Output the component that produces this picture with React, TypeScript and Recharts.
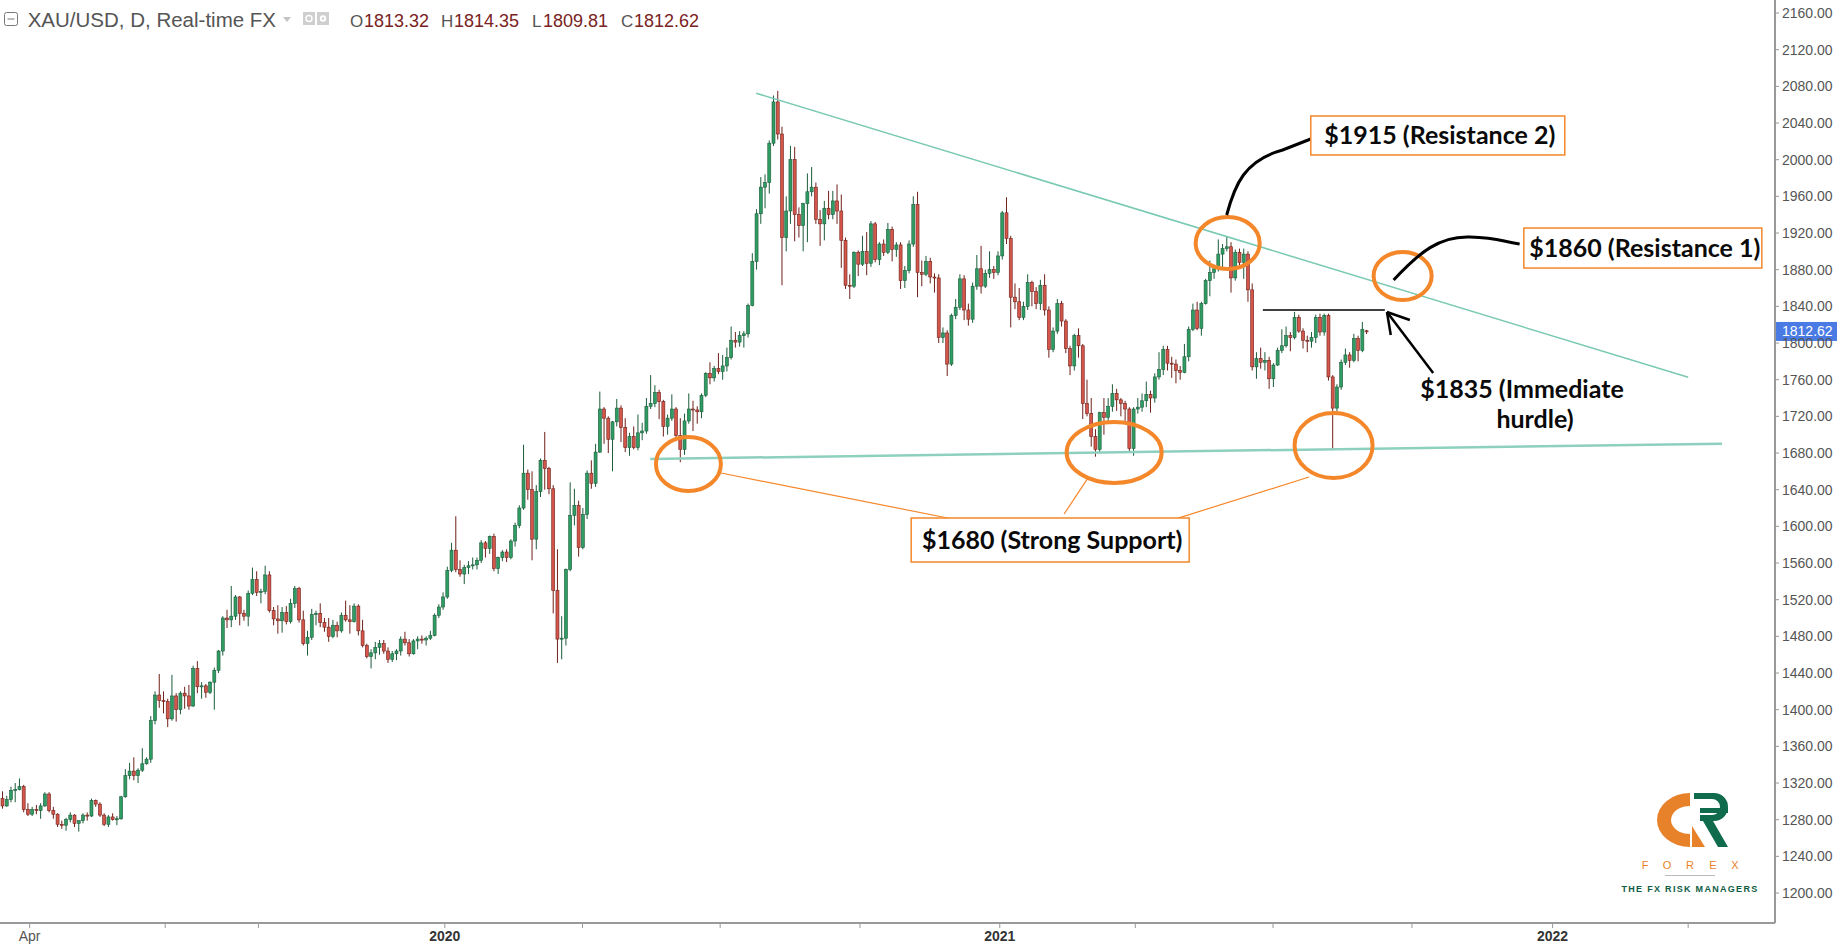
import { ComposedChart, Bar, XAxis, YAxis, ReferenceLine, ReferenceDot } from 'recharts';

// 2-session candles [open, high, low, close]
const ohlc2019: number[][] = [
  [1303, 1311, 1292, 1295], [1295, 1306, 1294, 1302], [1302, 1316, 1299, 1312], [1312, 1320, 1299, 1313],
  [1313, 1325, 1312, 1316], [1316, 1318, 1288, 1291], [1291, 1298, 1284, 1286], [1286, 1294, 1284, 1291],
  [1291, 1296, 1286, 1290], [1290, 1298, 1281, 1295], [1295, 1310, 1294, 1308], [1308, 1310, 1288, 1290],
  [1290, 1294, 1281, 1286], [1286, 1287, 1272, 1275], [1275, 1279, 1270, 1274], [1274, 1282, 1268, 1280],
  [1280, 1288, 1277, 1285], [1285, 1286, 1272, 1276], [1276, 1279, 1267, 1279], [1279, 1287, 1276, 1285],
  [1285, 1288, 1279, 1284], [1284, 1303, 1283, 1301], [1301, 1302, 1294, 1297], [1297, 1299, 1283, 1285],
  [1285, 1287, 1273, 1275], [1275, 1285, 1272, 1283], [1283, 1287, 1279, 1280], [1280, 1284, 1274, 1281],
  [1281, 1306, 1280, 1305], [1305, 1335, 1304, 1328], [1328, 1342, 1324, 1333], [1333, 1348, 1323, 1328],
  [1328, 1336, 1320, 1334], [1334, 1358, 1332, 1341], [1341, 1348, 1340, 1346], [1346, 1393, 1342, 1388],
  [1388, 1420, 1384, 1416], [1416, 1439, 1402, 1410], [1410, 1420, 1396, 1409], [1409, 1412, 1381, 1390],
  [1390, 1438, 1388, 1415], [1415, 1418, 1387, 1400], [1400, 1420, 1395, 1418], [1418, 1425, 1401, 1415],
  [1415, 1427, 1400, 1404], [1404, 1448, 1403, 1445], [1445, 1453, 1418, 1425], [1425, 1430, 1412, 1426],
  [1426, 1428, 1413, 1419], [1419, 1431, 1417, 1430], [1430, 1446, 1400, 1443], [1443, 1465, 1440, 1464],
  [1464, 1502, 1459, 1500], [1500, 1509, 1489, 1498], [1498, 1535, 1490, 1502], [1502, 1525, 1498, 1523],
  [1523, 1524, 1492, 1505], [1505, 1509, 1497, 1502], [1502, 1530, 1491, 1527], [1527, 1555, 1525, 1542],
  [1542, 1551, 1524, 1528], [1528, 1532, 1516, 1529], [1529, 1557, 1526, 1547], [1547, 1551, 1506, 1508],
  [1508, 1512, 1492, 1499], [1499, 1514, 1483, 1497], [1497, 1512, 1484, 1506], [1506, 1513, 1493, 1496],
  [1496, 1521, 1494, 1516], [1516, 1535, 1511, 1532], [1532, 1534, 1495, 1498], [1498, 1508, 1470, 1472],
  [1472, 1486, 1459, 1479], [1479, 1510, 1476, 1504], [1504, 1508, 1492, 1505], [1505, 1516, 1490, 1495],
  [1495, 1500, 1485, 1490], [1490, 1500, 1474, 1480], [1480, 1498, 1478, 1492], [1492, 1496, 1479, 1486],
  [1486, 1506, 1484, 1503], [1503, 1519, 1496, 1498], [1498, 1514, 1483, 1496], [1496, 1516, 1495, 1513],
  [1513, 1515, 1481, 1486], [1486, 1498, 1468, 1470], [1470, 1472, 1456, 1458], [1458, 1466, 1445, 1462],
  [1462, 1474, 1455, 1468], [1468, 1476, 1460, 1472], [1472, 1476, 1461, 1464], [1464, 1468, 1451, 1455],
  [1455, 1464, 1452, 1461], [1461, 1466, 1454, 1464], [1464, 1480, 1459, 1477], [1477, 1485, 1470, 1473],
  [1473, 1477, 1458, 1461], [1461, 1477, 1460, 1475], [1475, 1480, 1466, 1477], [1477, 1481, 1472, 1476],
  [1476, 1480, 1470, 1478], [1478, 1486, 1476, 1481], [1481, 1505, 1480, 1503], [1503, 1515, 1500, 1512],
  [1512, 1528, 1509, 1523],
];

const ohlc2020: number[][] = [
  [1523, 1556, 1521, 1552], [1552, 1582, 1550, 1574], [1574, 1611, 1550, 1553], [1553, 1563, 1545, 1548],
  [1548, 1558, 1537, 1555], [1555, 1562, 1548, 1557], [1557, 1566, 1553, 1558], [1558, 1566, 1553, 1563],
  [1563, 1585, 1560, 1582], [1582, 1584, 1566, 1576], [1576, 1590, 1570, 1589], [1589, 1592, 1551, 1554],
  [1554, 1567, 1548, 1566], [1566, 1574, 1562, 1572], [1572, 1575, 1561, 1566], [1566, 1586, 1564, 1584],
  [1584, 1604, 1578, 1601], [1601, 1623, 1598, 1620], [1620, 1689, 1618, 1658], [1658, 1662, 1629, 1640],
  [1640, 1660, 1563, 1586], [1586, 1645, 1575, 1638], [1638, 1674, 1632, 1672], [1672, 1703, 1640, 1663],
  [1663, 1665, 1635, 1641], [1641, 1645, 1505, 1530], [1530, 1575, 1451, 1477], [1477, 1502, 1455, 1478],
  [1478, 1554, 1470, 1553], [1553, 1648, 1551, 1612], [1612, 1641, 1601, 1623], [1623, 1628, 1567, 1577],
  [1577, 1620, 1575, 1613], [1613, 1661, 1608, 1658], [1658, 1672, 1641, 1647], [1647, 1690, 1643, 1681],
  [1681, 1747, 1680, 1728], [1728, 1730, 1690, 1718], [1718, 1720, 1680, 1695], [1695, 1715, 1660, 1714],
  [1714, 1739, 1709, 1729], [1729, 1732, 1692, 1708], [1708, 1718, 1681, 1686], [1686, 1702, 1677, 1698],
  [1698, 1709, 1684, 1686], [1686, 1722, 1683, 1702], [1702, 1713, 1694, 1704], [1704, 1740, 1701, 1731],
  [1731, 1765, 1728, 1734], [1734, 1754, 1730, 1746], [1746, 1749, 1717, 1736], [1736, 1738, 1698, 1709],
  [1709, 1722, 1700, 1718], [1718, 1744, 1715, 1728], [1728, 1730, 1693, 1699], [1699, 1718, 1670, 1684],
  [1684, 1723, 1678, 1715], [1715, 1745, 1712, 1728], [1728, 1737, 1704, 1727], [1727, 1731, 1712, 1725],
  [1725, 1745, 1718, 1743], [1743, 1768, 1741, 1767], [1767, 1779, 1755, 1762], [1762, 1775, 1758, 1772],
  [1772, 1789, 1766, 1769], [1769, 1787, 1760, 1775], [1775, 1795, 1769, 1784], [1784, 1818, 1782, 1803],
  [1803, 1812, 1795, 1801], [1801, 1813, 1796, 1808], [1808, 1813, 1795, 1810], [1810, 1843, 1806, 1841],
  [1841, 1898, 1840, 1889], [1889, 1946, 1880, 1941], [1941, 1981, 1930, 1970], [1970, 1984, 1947, 1975],
  [1975, 2021, 1963, 2018], [2018, 2070, 2015, 2063], [2063, 2075, 2022, 2028], [2028, 2036, 1863, 1915],
  [1915, 1960, 1900, 1944], [1944, 2015, 1930, 2000], [2000, 2014, 1911, 1940], [1940, 1948, 1915, 1928],
  [1928, 1953, 1900, 1952], [1952, 1985, 1910, 1965], [1965, 1992, 1960, 1970], [1970, 1975, 1930, 1935],
  [1935, 1945, 1906, 1930], [1930, 1955, 1912, 1947], [1947, 1966, 1935, 1940], [1940, 1966, 1935, 1955],
  [1955, 1973, 1930, 1944], [1944, 1962, 1882, 1912], [1912, 1915, 1859, 1863], [1863, 1875, 1848, 1862],
  [1862, 1900, 1860, 1899], [1899, 1901, 1873, 1886], [1886, 1917, 1884, 1900], [1900, 1921, 1874, 1887],
  [1887, 1933, 1883, 1930], [1930, 1932, 1888, 1891], [1891, 1910, 1885, 1908], [1908, 1913, 1895, 1899],
  [1899, 1931, 1897, 1924], [1924, 1927, 1889, 1902], [1902, 1910, 1894, 1907], [1907, 1910, 1859, 1868],
  [1868, 1884, 1860, 1879], [1879, 1912, 1876, 1908], [1908, 1960, 1905, 1951], [1951, 1965, 1850, 1877],
  [1877, 1890, 1862, 1875], [1875, 1895, 1873, 1889], [1889, 1893, 1865, 1872], [1872, 1876, 1855, 1871],
  [1871, 1875, 1800, 1806], [1806, 1817, 1800, 1811], [1811, 1814, 1764, 1777], [1777, 1832, 1775, 1830],
  [1830, 1848, 1826, 1839], [1839, 1875, 1836, 1870], [1870, 1874, 1825, 1836], [1836, 1843, 1819, 1826],
  [1826, 1866, 1822, 1862], [1862, 1896, 1858, 1881], [1881, 1906, 1854, 1862], [1862, 1880, 1860, 1876],
  [1876, 1900, 1871, 1880], [1880, 1884, 1870, 1877], [1877, 1900, 1874, 1895],
];

const ohlc2021: number[][] = [
  [1895, 1944, 1891, 1942], [1942, 1959, 1908, 1914], [1914, 1917, 1817, 1850], [1850, 1865, 1837, 1845],
  [1845, 1860, 1825, 1828], [1828, 1845, 1825, 1840], [1840, 1875, 1836, 1866], [1866, 1868, 1840, 1856],
  [1856, 1861, 1837, 1843], [1843, 1869, 1836, 1863], [1863, 1875, 1830, 1836], [1836, 1840, 1784, 1793],
  [1793, 1817, 1790, 1813], [1813, 1848, 1810, 1843], [1843, 1846, 1818, 1824], [1824, 1826, 1789, 1794],
  [1794, 1797, 1765, 1775], [1775, 1810, 1770, 1808], [1808, 1816, 1784, 1797], [1797, 1799, 1717, 1734],
  [1734, 1760, 1720, 1723], [1723, 1740, 1687, 1698], [1698, 1706, 1676, 1684], [1684, 1725, 1680, 1724],
  [1724, 1740, 1700, 1719], [1719, 1740, 1715, 1731], [1731, 1755, 1725, 1745], [1745, 1750, 1726, 1738],
  [1738, 1740, 1720, 1734], [1734, 1737, 1715, 1728], [1728, 1730, 1680, 1685], [1685, 1730, 1677, 1728],
  [1728, 1740, 1723, 1730], [1730, 1745, 1725, 1737], [1737, 1758, 1730, 1744], [1744, 1748, 1724, 1740],
  [1740, 1767, 1735, 1763], [1763, 1790, 1760, 1771], [1771, 1797, 1765, 1793], [1793, 1797, 1770, 1778],
  [1778, 1785, 1762, 1777], [1777, 1782, 1756, 1770], [1770, 1775, 1760, 1768], [1768, 1799, 1767, 1785],
  [1785, 1818, 1780, 1815], [1815, 1843, 1813, 1836], [1836, 1845, 1814, 1816], [1816, 1845, 1808, 1843],
  [1843, 1870, 1842, 1868], [1868, 1890, 1851, 1877], [1877, 1885, 1870, 1881], [1881, 1913, 1878, 1897],
  [1897, 1908, 1882, 1903], [1903, 1916, 1900, 1905], [1905, 1910, 1855, 1871], [1871, 1902, 1868, 1899],
  [1899, 1903, 1885, 1888], [1888, 1903, 1870, 1897], [1897, 1900, 1845, 1858], [1858, 1865, 1770, 1774],
  [1774, 1790, 1761, 1783], [1783, 1795, 1772, 1779], [1779, 1790, 1770, 1781], [1781, 1785, 1750, 1761],
  [1761, 1778, 1752, 1776], [1776, 1795, 1775, 1792], [1792, 1815, 1789, 1797], [1797, 1818, 1795, 1808],
  [1808, 1812, 1791, 1806], [1806, 1834, 1804, 1828], [1828, 1831, 1811, 1813], [1813, 1816, 1794, 1803],
  [1803, 1808, 1790, 1802], [1802, 1812, 1795, 1806], [1806, 1831, 1800, 1828], [1828, 1832, 1808, 1812],
  [1812, 1832, 1808, 1830], [1830, 1832, 1759, 1763], [1763, 1765, 1684, 1729], [1729, 1755, 1725, 1752],
  [1752, 1782, 1749, 1779], [1779, 1794, 1776, 1787], [1787, 1790, 1773, 1781], [1781, 1810, 1779, 1805],
  [1805, 1808, 1780, 1792], [1792, 1823, 1790, 1815], [1813.32, 1814.35, 1809.81, 1812.62],
];

const FUTURE_SLOTS = 96;

// time axis: slot index of each quarterly tick and its label
const xTickSlots = [6.5, 38.5, 60.5, 104.5, 137, 169.5, 202.5, 235.5, 267.5, 300, 332.8, 366, 398];
const xTickLabels = ['Apr', '', '', '2020', '', '', '', '2021', '', '', '', '2022', ''];

const yTicks = [1200, 1240, 1280, 1320, 1360, 1400, 1440, 1480, 1520, 1560, 1600, 1640, 1680, 1720, 1760,
  1800, 1840, 1880, 1920, 1960, 2000, 2040, 2080, 2120, 2160];

const header = { symbol: 'XAU/USD, D, Real-time FX', o: '1813.32', h: '1814.35', l: '1809.81', c: '1812.62' };
const lastPrice = 1812.62;

// trendlines [slot, price]
const resistanceLine = [[178, 2072.5], [398, 1762.7]];
const supportLine = [[153, 1673.5], [406, 1690.2]];
const hurdleLevel = { from: 297.6, to: 326.4, price: 1836 };

// circled touch points [slot, price, rx, ry]
const rings = [
  [162, 1668, 32.5, 27],
  [262.5, 1680.6, 47.5, 30.5],
  [314.3, 1688.2, 39, 32.5],
  [289.3, 1909.1, 32, 26],
  [330.6, 1873.1, 29, 24],
];

const supportLeaders = [
  [[169.7, 1658.2], [225.6, 1606.9]],
  [[256.3, 1652.7], [250.7, 1613.5]],
  [[308.5, 1653.8], [277.6, 1609.0]],
];

const hurdleArrow = [
  [[337.8, 1767.3], [326.9, 1833.8]],
  [[326.9, 1833.8], [332.3, 1825.1]],
  [[326.9, 1833.8], [327.8, 1808.7]],
];

const boxes = [
  { slot: 338.9, price: 2026.4, w: 254, h: 39, text: '$1915 (Resistance 2)' },
  { slot: 387.3, price: 1903.6, w: 238, h: 40, text: '$1860 (Resistance 1)' },
  { slot: 247.4, price: 1585.1, w: 278, h: 44, text: '$1680 (Strong Support)' },
];
const hurdleNote = { slot: 359.5, price: 1731.3, lines: ['$1835 (Immediate', 'hurdle)'] };

const UP_FILL = '#2f9d63';
const UP_EDGE = '#1c5c3b';
const DOWN_FILL = '#d4564b';
const DOWN_EDGE = '#6e2119';
const TREND = '#79c9b3';
const ORANGE = '#f5872b';

const ohlc = [...ohlc2019, ...ohlc2020, ...ohlc2021];
const rows: any[] = [
  ...ohlc.map(([o, h, l, c], s) => ({ s, o, h, l, c })),
  ...Array.from({ length: FUTURE_SLOTS }, (_, k) => ({ s: ohlc.length + k })),
];

const Candle = (props: any) => {
  const { x, y, width, height, payload } = props;
  if (!payload || payload.h == null) return null;
  const { o, h, l, c } = payload;
  const top = Math.min(y, y + height);
  const span = Math.abs(height);
  const ppu = span / (h - l || 1);
  const yOf = (v: number) => top + (h - v) * ppu;
  const up = c >= o;
  const mid = x + width / 2;
  const bTop = yOf(Math.max(o, c));
  const bBot = yOf(Math.min(o, c));
  return (
    <g>
      <line x1={mid} x2={mid} y1={top} y2={top + span} stroke={up ? UP_EDGE : DOWN_EDGE} strokeWidth={1} />
      <rect
        x={x}
        y={bTop}
        width={width}
        height={Math.max(1, bBot - bTop)}
        fill={up ? UP_FILL : DOWN_FILL}
        stroke={up ? UP_EDGE : DOWN_EDGE}
        strokeWidth={0.6}
      />
    </g>
  );
};

const XTick = (props: any) => {
  const { x, y, payload } = props;
  const idx = xTickSlots.indexOf(payload.value);
  const label = xTickLabels[idx] || '';
  if (!label) return null;
  const isYear = label !== 'Apr';
  return (
    <text x={x} y={y} dy="0.71em" textAnchor="middle" fontSize={14} fontFamily="Liberation Sans, Arial"
      fontWeight={isYear ? 700 : 400} fill={isYear ? '#333' : '#555'}>
      {label}
    </text>
  );
};

const PriceTag = (props: any) => {
  const vb = props.viewBox || {};
  const left = vb.x + vb.width;
  return (
    <g>
      <rect x={left} y={vb.y - 9.5} width={62} height={19} fill="#4a7be4" />
      <text x={left + 7} y={vb.y + 5} fontSize={14} fontFamily="Liberation Sans, Arial" fill="#fff">
        {lastPrice.toFixed(2)}
      </text>
    </g>
  );
};

const ring = (rx: number, ry: number, idx: number) => (p: any) => {
  const { cx, cy } = p;
  let curve: any = null;
  if (idx === 3) {
    curve = (
      <path d={`M ${cx - 1} ${cy - 28} C ${cx + 7} ${cy - 58} ${cx + 17} ${cy - 83} ${cx + 55} ${cy - 93} L ${cx + 83} ${cy - 104}`}
        fill="none" stroke="#000" strokeWidth={3} />
    );
  }
  if (idx === 4) {
    curve = (
      <path d={`M ${cx - 9} ${cy + 4} C ${cx + 17} ${cy - 24} ${cx + 37} ${cy - 40} ${cx + 67} ${cy - 39} S ${cx + 97} ${cy - 35} ${cx + 117} ${cy - 32}`}
        fill="none" stroke="#000" strokeWidth={3} />
    );
  }
  return (
    <g>
      <ellipse cx={cx} cy={cy} rx={rx} ry={ry} fill="none" stroke={ORANGE} strokeWidth={4} />
      {curve}
    </g>
  );
};

const boxShape = (w: number, h: number, text: string) => (p: any) => {
  const { cx, cy } = p;
  return (
    <g>
      <rect x={cx - w / 2} y={cy - h / 2} width={w} height={h} fill="#fff" stroke={ORANGE} strokeWidth={1.5} />
      <text x={cx + 2} y={cy + 8.5} textAnchor="middle" fontSize={25} fontWeight={700} fontFamily="Lato" fill="#0a0a0a">
        {text}
      </text>
    </g>
  );
};

const noteShape = (p: any) => {
  const { cx, cy } = p;
  return (
    <g fontSize={25} fontWeight={700} fontFamily="Lato" fill="#0a0a0a" textAnchor="middle">
      <text x={cx - 3} y={cy - 8}>{hurdleNote.lines[0]}</text>
      <text x={cx + 10} y={cy + 22}>{hurdleNote.lines[1]}</text>
    </g>
  );
};

const Overlay = () => (
  <svg width={1840} height={948} style={{ position: 'absolute', left: 0, top: 0, pointerEvents: 'none' }}>
    {/* legend header */}
    <rect x={4.5} y={12.5} width={13} height={13} rx={2} fill="none" stroke="#777" />
    <line x1={7.5} x2={14.5} y1={19} y2={19} stroke="#777" />
    <text x={27.7} y={27} fontSize={20.5} fontFamily="Liberation Sans, Arial" fill="#555">{header.symbol}</text>
    <polygon points="283,17 291,17 287,22" fill="#c4c4c4" />
    <rect x={303} y={12} width={12} height={13} fill="#cfcfcf" />
    <circle cx={309} cy={18.5} r={3} fill="none" stroke="#fff" strokeWidth={1.5} />
    <rect x={317} y={12} width={12} height={13} fill="#cfcfcf" />
    <circle cx={323} cy={18.5} r={3.2} fill="#fff" />
    <circle cx={323} cy={18.5} r={1.3} fill="#cfcfcf" />
    <g fontSize={17} fontFamily="Liberation Sans Narrow, Liberation Sans" fill="#555">
      <text x={350} y={27}>O</text>
      <text x={441} y={27}>H</text>
      <text x={532} y={27}>L</text>
      <text x={621} y={27}>C</text>
    </g>
    <g fontSize={18} fontFamily="Liberation Sans, Arial" fill="#7a2222">
      <text x={364} y={27}>{header.o}</text>
      <text x={454} y={27}>{header.h}</text>
      <text x={543} y={27}>{header.l}</text>
      <text x={634} y={27}>{header.c}</text>
    </g>
    {/* watermark logo */}
    <path d="M 1690 793 A 33 27 0 0 0 1690 847 L 1690 834 A 19 14 0 0 1 1690 806 Z" fill="#e8822a" />
    <polygon points="1692,826 1705,847 1692,847" fill="#e8822a" />
    <path d="M 1694 793 L 1714 793 A 14 14 0 0 1 1714 821 L 1700 821 L 1700 815 L 1712 815 A 8 8 0 0 0 1712 799 L 1694 799 Z" fill="#0f6b4b" />
    <rect x={1700} y={808} width={28} height={5} fill="#0f6b4b" />
    <polygon points="1703,821 1713,821 1728,847 1718,847" fill="#0f6b4b" />
    <g fontSize={11} fontFamily="Liberation Sans, Arial" fill="#e8822a" textAnchor="middle">
      <text x={1645} y={869}>F</text>
      <text x={1667} y={869}>O</text>
      <text x={1690} y={869}>R</text>
      <text x={1713} y={869}>E</text>
      <text x={1735} y={869}>X</text>
    </g>
    <line x1={1665} x2={1715} y1={875.5} y2={875.5} stroke="#bbb" />
    <text x={1690} y={892} textAnchor="middle" fontSize={9} fontWeight={700} letterSpacing={1.3}
      fontFamily="Liberation Sans Narrow, Liberation Sans" fill="#0f5c43">THE FX RISK MANAGERS</text>
  </svg>
);

export default function App() {
  return (
    <div style={{ position: 'absolute', left: 0, top: 0, width: 1840, height: 948, background: '#fff' }}>
      <ComposedChart width={1840} height={948} data={rows} margin={{ top: 0, right: 0, bottom: 0, left: 0 }}>
        <XAxis
          dataKey="s"
          type="number"
          domain={[-0.5, ohlc.length + FUTURE_SLOTS - 0.5]}
          allowDataOverflow
          ticks={xTickSlots}
          interval={0}
          tick={<XTick />}
          tickSize={5}
          tickMargin={3}
          tickLine={{ stroke: '#999' }}
          axisLine={{ stroke: '#999', strokeWidth: 2 }}
          height={25}
        />
        <YAxis
          orientation="right"
          type="number"
          domain={[1167.3, 2174.2]}
          allowDataOverflow
          ticks={yTicks}
          interval={0}
          width={65}
          tickSize={4}
          tickMargin={3}
          tickFormatter={(v: number) => v.toFixed(2)}
          tick={{ fill: '#555', fontSize: 14, fontFamily: 'Liberation Sans, Arial' }}
          tickLine={{ stroke: '#999' }}
          axisLine={{ stroke: '#999', strokeWidth: 2 }}
        />
        <Bar
          dataKey={(d: any) => (d.h == null ? null : [d.l, d.h])}
          barSize={3}
          shape={<Candle />}
          isAnimationActive={false}
        />
        <ReferenceLine
          segment={[{ x: resistanceLine[0][0], y: resistanceLine[0][1] }, { x: resistanceLine[1][0], y: resistanceLine[1][1] }]}
          stroke={TREND}
          strokeWidth={1.5}
          ifOverflow="visible"
        />
        <ReferenceLine
          segment={[{ x: supportLine[0][0], y: supportLine[0][1] }, { x: supportLine[1][0], y: supportLine[1][1] }]}
          stroke="#8ed0be"
          strokeWidth={2.5}
          ifOverflow="visible"
        />
        <ReferenceLine
          segment={[{ x: hurdleLevel.from, y: hurdleLevel.price }, { x: hurdleLevel.to, y: hurdleLevel.price }]}
          stroke="#000"
          strokeWidth={1.5}
          ifOverflow="visible"
        />
        {hurdleArrow.map((seg, i) => (
          <ReferenceLine
            key={'a' + i}
            segment={[{ x: seg[0][0], y: seg[0][1] }, { x: seg[1][0], y: seg[1][1] }]}
            stroke="#000"
            strokeWidth={2.5}
            ifOverflow="visible"
          />
        ))}
        {supportLeaders.map((seg, i) => (
          <ReferenceLine
            key={'l' + i}
            segment={[{ x: seg[0][0], y: seg[0][1] }, { x: seg[1][0], y: seg[1][1] }]}
            stroke={ORANGE}
            strokeWidth={1.2}
            ifOverflow="visible"
          />
        ))}
        <ReferenceLine y={lastPrice} stroke="none" ifOverflow="visible" label={<PriceTag />} />
        {rings.map((r, i) => (
          <ReferenceDot key={'r' + i} x={r[0]} y={r[1]} r={1} ifOverflow="visible" shape={ring(r[2], r[3], i)} />
        ))}
        {boxes.map((b, i) => (
          <ReferenceDot key={'b' + i} x={b.slot} y={b.price} r={1} ifOverflow="visible" shape={boxShape(b.w, b.h, b.text)} />
        ))}
        <ReferenceDot x={hurdleNote.slot} y={hurdleNote.price} r={1} ifOverflow="visible" shape={noteShape} />
      </ComposedChart>
      <Overlay />
    </div>
  );
}
